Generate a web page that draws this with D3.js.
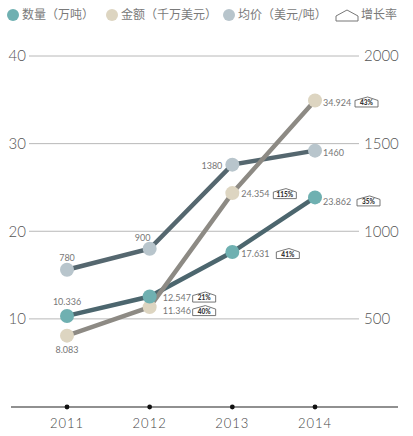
<!DOCTYPE html>
<html><head><meta charset="utf-8">
<script src="https://cdn.jsdelivr.net/npm/d3@7"></script>
<style>
html,body{margin:0;padding:0;background:#fff;}
svg{display:block;}
</style></head>
<body>
<svg id="c" width="413" height="436"></svg>
<script>
const years = ["2011","2012","2013","2014"];
const quantity = [10.336, 12.547, 17.631, 23.862];      // 万吨
const amount = [8.083, 11.346, 24.354, 34.924];         // 千万美元
const price = [780, 900, 1380, 1460];                   // 美元/吨
const quantityGrowth = [null, "21%", "41%", "35%"];
const amountGrowth = [null, "40%", "115%", "43%"];
const leftTicks = [10, 20, 30, 40];
const rightTicks = [500, 1000, 1500, 2000];
const legendLabels = ["数量（万吨）", "金额（千万美元）", "均价（美元/吨）", "增长率"];

const svg = d3.select("#c");
const x = d3.scalePoint().domain(years).range([67, 315]);
const yL = d3.scaleLinear().domain([0, 40]).range([406.5, 56]);
const yR = d3.scaleLinear().domain([0, 2000]).range([406.5, 56]);

const numFont = "Lato, 'DejaVu Sans', sans-serif";
const cjkFont = "'Noto Sans CJK SC', 'Noto Sans', sans-serif";

// gridlines
svg.append("g").selectAll("line").data(leftTicks).join("line")
  .attr("x1", 29).attr("x2", 359)
  .attr("y1", d => yL(d)).attr("y2", d => yL(d))
  .attr("stroke", "#b8b8b8").attr("stroke-width", 1);

// left axis labels
svg.append("g").selectAll("text").data(leftTicks).join("text")
  .attr("x", 26).attr("y", d => yL(d)).attr("dy", "0.36em")
  .attr("text-anchor", "end")
  .attr("font-family", numFont).attr("font-weight", 300)
  .attr("font-size", 15).attr("fill", "#555")
  .text(d => d);

// right axis labels
svg.append("g").selectAll("text").data(rightTicks).join("text")
  .attr("x", 364).attr("y", d => yR(d)).attr("dy", "0.36em")
  .attr("text-anchor", "start")
  .attr("font-family", numFont).attr("font-weight", 300)
  .attr("font-size", 15).attr("fill", "#555")
  .text(d => d);

// bottom axis
svg.append("line").attr("x1", 11).attr("x2", 398)
  .attr("y1", 407).attr("y2", 407).attr("stroke", "#222").attr("stroke-width", 1.2);
svg.append("g").selectAll("circle").data(years).join("circle")
  .attr("cx", d => x(d)).attr("cy", 407).attr("r", 2.4).attr("fill", "#111");
svg.append("g").selectAll("text").data(years).join("text")
  .attr("x", d => x(d)).attr("y", 428)
  .attr("text-anchor", "middle")
  .attr("font-family", numFont).attr("font-weight", 300)
  .attr("font-size", 13).attr("letter-spacing", 1).attr("fill", "#444")
  .text(d => d);

// lines
const line = (scale) => d3.line().x((d, i) => x(years[i])).y(d => scale(d));
svg.append("path").datum(price).attr("d", line(yR))
  .attr("fill", "none").attr("stroke", "#55676f").attr("stroke-width", 4.5);
svg.append("path").datum(quantity).attr("d", line(yL))
  .attr("fill", "none").attr("stroke", "#4c666e").attr("stroke-width", 4.5);
svg.append("path").datum(amount).attr("d", line(yL))
  .attr("fill", "none").attr("stroke", "#8d8a84").attr("stroke-width", 4.5);

// markers
function markers(data, scale, color) {
  svg.append("g").selectAll("circle").data(data).join("circle")
    .attr("cx", (d, i) => x(years[i])).attr("cy", d => scale(d))
    .attr("r", 7).attr("fill", color);
}
markers(price, yR, "#b8c5cc");
markers(amount, yL, "#ddd5c1");
markers(quantity, yL, "#6fb0b1");

// badge (house-shaped outline with growth rate)
function badge(g, bx, cy, txt) {
  const w = 23, h = 10, r = 3.5, by = cy - h / 2 - 0.5;
  g.append("path")
    .attr("d", `M${bx},${by + h}L${bx},${by + r}L${bx + w * 0.55},${by}L${bx + w},${by + r}L${bx + w},${by + h}Z`)
    .attr("fill", "#fff").attr("stroke", "#666").attr("stroke-width", 0.9);
  g.append("text").attr("x", bx + w / 2).attr("y", by + h - 1.6)
    .attr("text-anchor", "middle")
    .attr("font-family", numFont).attr("font-weight", 900)
    .attr("font-size", 6.5).attr("fill", "#333").text(txt);
}

const labG = svg.append("g").attr("font-family", numFont).attr("font-size", 9).attr("fill", "#777");
function label(tx, ty, txt, anchor) {
  labG.append("text").attr("x", tx).attr("y", ty).attr("dy", "0.35em")
    .attr("text-anchor", anchor || "start").attr("fill", "#777").text(txt);
}

// 2011 labels
label(x(years[0]), yL(quantity[0]) - 14, quantity[0].toFixed(3), "middle");
label(x(years[0]), yL(amount[0]) + 14, amount[0].toFixed(3), "middle");
label(x(years[0]), yR(price[0]) - 12, price[0], "middle");
// 2012
label(x(years[1]) - 7, yR(price[1]) - 11, price[1], "middle");
label(x(years[1]) + 13, yL(quantity[1]) + 1, quantity[1].toFixed(3));
badge(labG, x(years[1]) + 43, yL(quantity[1]) + 1, quantityGrowth[1]);
label(x(years[1]) + 13, yL(amount[1]) + 4, amount[1].toFixed(3));
badge(labG, x(years[1]) + 43, yL(amount[1]) + 4, amountGrowth[1]);
// 2013
label(x(years[2]) - 10, yR(price[2]) + 1, price[2], "end");
label(x(years[2]) + 9, yL(amount[2]) + 1, amount[2].toFixed(3));
badge(labG, x(years[2]) + 41, yL(amount[2]) + 1, amountGrowth[2]);
label(x(years[2]) + 9, yL(quantity[2]) + 2, quantity[2].toFixed(3));
badge(labG, x(years[2]) + 44, yL(quantity[2]) + 2, quantityGrowth[2]);
// 2014
label(x(years[3]) + 8, yL(amount[3]) + 2, amount[3].toFixed(3));
badge(labG, x(years[3]) + 40, yL(amount[3]) + 2, amountGrowth[3]);
label(x(years[3]) + 8, yR(price[3]) + 2, price[3]);
label(x(years[3]) + 8, yL(quantity[3]) + 4, quantity[3].toFixed(3));
badge(labG, x(years[3]) + 42, yL(quantity[3]) + 4, quantityGrowth[3]);

// legend
const lg = svg.append("g");
const legendColors = ["#6fb0b1", "#ddd5c1", "#b8c5cc"];
const legendX = [13, 112, 229];
legendLabels.slice(0, 3).forEach((t, i) => {
  lg.append("circle").attr("cx", legendX[i]).attr("cy", 15).attr("r", 6).attr("fill", legendColors[i]);
  lg.append("text").attr("x", legendX[i] + 9).attr("y", 15).attr("dy", "0.36em")
    .attr("font-family", cjkFont).attr("font-size", 12).attr("fill", "#7a7a7a").text(t);
});
lg.append("path").attr("d", "M336,21L336,16L347,10L358,16L358,21Z")
  .attr("fill", "none").attr("stroke", "#777").attr("stroke-width", 1);
lg.append("text").attr("x", 361).attr("y", 15).attr("dy", "0.36em")
  .attr("font-family", cjkFont).attr("font-size", 12).attr("fill", "#7a7a7a").text(legendLabels[3]);
</script>
</body></html>
